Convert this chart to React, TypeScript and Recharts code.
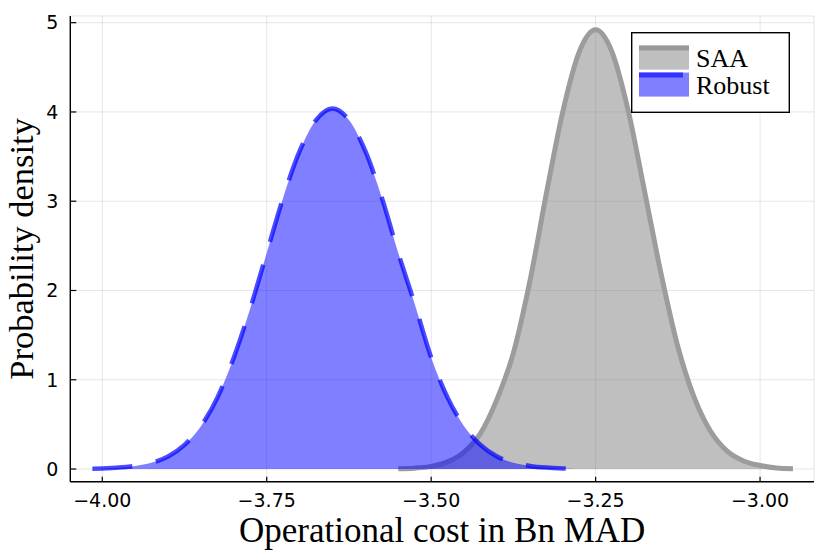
import React from 'react'
import { AreaChart, Area, XAxis, YAxis, CartesianGrid, Legend, Label } from 'recharts'

// density estimates
const saaX = [
  -3.55, -3.525, -3.5, -3.475, -3.45, -3.425, -3.4, -3.375, -3.35, -3.325, -3.3, -3.275, -3.25,
  -3.225, -3.2, -3.175, -3.15, -3.125, -3.1, -3.075, -3.05, -3.025, -3.0, -2.975, -2.95,
]
const saaDensity = [
  0.003, 0.01, 0.03, 0.08, 0.19, 0.4, 0.78, 1.3, 2.1, 3.08, 4.0, 4.67, 4.92,
  4.67, 4.0, 3.09, 2.17, 1.37, 0.8, 0.42, 0.2, 0.09, 0.04, 0.012, 0.004,
]

const robustX = [
  -4.015, -4.0, -3.975, -3.95, -3.925, -3.9, -3.875, -3.85, -3.825, -3.8, -3.775, -3.75, -3.725,
  -3.7, -3.675, -3.65, -3.625, -3.6, -3.575, -3.55, -3.525, -3.5, -3.475, -3.45, -3.425, -3.4,
  -3.375, -3.35, -3.325, -3.3, -3.285,
]
const robustDensity = [
  0.004, 0.007, 0.016, 0.035, 0.07, 0.14, 0.27, 0.48, 0.8, 1.25, 1.8, 2.42, 3.04,
  3.56, 3.91, 4.04, 3.91, 3.56, 3.04, 2.42, 1.85, 1.25, 0.8, 0.48, 0.27, 0.14,
  0.07, 0.035, 0.016, 0.007, 0.004,
]

const xTicks = [-4, -3.75, -3.5, -3.25, -3]
const yTicks = [0, 1, 2, 3, 4, 5]
const seriesNames = ['SAA', 'Robust']

const SERIF = '"Liberation Serif", "DejaVu Serif", serif'
const SANS = '"DejaVu Sans", sans-serif'

type Row = { x: number; saa: number | null; robust: number | null }

const data: Row[] = (() => {
  const rows = new Map<number, Row>()
  saaX.forEach((x, i) => {
    const r = rows.get(x) ?? { x, saa: null, robust: null }
    r.saa = saaDensity[i]
    rows.set(x, r)
  })
  robustX.forEach((x, i) => {
    const r = rows.get(x) ?? { x, saa: null, robust: null }
    r.robust = robustDensity[i]
    rows.set(x, r)
  })
  return [...rows.values()].sort((a, b) => a.x - b.x)
})()

const fmtX = (v: number) => (v < 0 ? '\u2212' : '') + Math.abs(v).toFixed(2)

function PlotLegend() {
  return (
    <svg width={160} height={82} style={{ display: 'block' }}>
      <rect x={0.7} y={0.7} width={157.6} height={79.6} fill="#fff" stroke="#000" strokeWidth={1.4} />
      {/* SAA swatch */}
      <rect x={8} y={13.6} width={50} height={24} fill="#bfbfbf" />
      <line x1={8} x2={58} y1={16} y2={16} stroke="#999" strokeWidth={5} />
      {/* Robust swatch */}
      <rect x={8} y={40.6} width={50} height={24} fill="#8080ff" />
      <line x1={8} x2={52} y1={43} y2={43} stroke="#3333ff" strokeWidth={5} />
      <text x={65} y={35} fontFamily={SERIF} fontSize={26} fill="#000">
        {seriesNames[0]}
      </text>
      <text x={65} y={61.6} fontFamily={SERIF} fontSize={26} fill="#000">
        {seriesNames[1]}
      </text>
    </svg>
  )
}

export default function App() {
  return (
    <AreaChart
      width={822}
      height={546}
      data={data}
      margin={{ top: 8, right: 16, left: 0, bottom: 0 }}
    >
      <CartesianGrid stroke="#000" strokeOpacity={0.1} strokeWidth={1} />
      <XAxis
        dataKey="x"
        type="number"
        domain={[-4.0486, -2.918]}
        allowDataOverflow
        ticks={xTicks}
        tickFormatter={fmtX}
        height={72.3}
        tickSize={-5}
        tickMargin={17}
        axisLine={{ stroke: '#000', strokeWidth: 1.4 }}
        tickLine={{ stroke: '#000', strokeWidth: 1.2 }}
        tick={{ fill: '#000', fontSize: 19, fontFamily: SANS }}
      >
        <Label
          content={(props: any) => {
            const vb = props.viewBox || {}
            return (
              <text
                x={vb.x + vb.width / 2}
                y={vb.y + 60}
                textAnchor="middle"
                fontFamily={SERIF}
                fontSize={35}
                fill="#000"
              >
                Operational cost in Bn MAD
              </text>
            )
          }}
        />
      </XAxis>
      <YAxis
        type="number"
        domain={[-0.142, 5.075]}
        allowDataOverflow
        ticks={yTicks}
        width={62.3}
        tickSize={-6}
        tickMargin={18}
        axisLine={{ stroke: '#000', strokeWidth: 1.4 }}
        tickLine={{ stroke: '#000', strokeWidth: 1.2 }}
        tick={{ fill: '#000', fontSize: 19, fontFamily: SANS }}
      >
        <Label
          content={(props: any) => {
            const vb = props.viewBox || {}
            const cy = vb.y + vb.height / 2
            return (
              <text
                transform={`translate(25.2, ${cy}) rotate(-90)`}
                textAnchor="middle"
                fontFamily={SERIF}
                fontSize={34.5}
                fill="#000"
              >
                Probability density
              </text>
            )
          }}
        />
      </YAxis>
      <Area
        type="monotone"
        dataKey="saa"
        name={seriesNames[0]}
        baseValue={0}
        connectNulls
        stroke="#9c9c9c"
        strokeWidth={5}
        fill="#808080"
        fillOpacity={0.5}
        dot={false}
        activeDot={false}
        isAnimationActive={false}
      />
      <Area
        type="monotone"
        dataKey="robust"
        name={seriesNames[1]}
        baseValue={0}
        connectNulls
        stroke="#0000ff"
        strokeOpacity={0.7}
        strokeWidth={4.5}
        strokeDasharray="40 24"
        fill="#0000ff"
        fillOpacity={0.5}
        dot={false}
        activeDot={false}
        isAnimationActive={false}
      />
      <Legend
        layout="horizontal"
        align="center"
        verticalAlign="middle"
        wrapperStyle={{ left: 623, top: 23.7, width: 160, height: 82 }}
        content={() => <PlotLegend />}
      />
    </AreaChart>
  )
}
